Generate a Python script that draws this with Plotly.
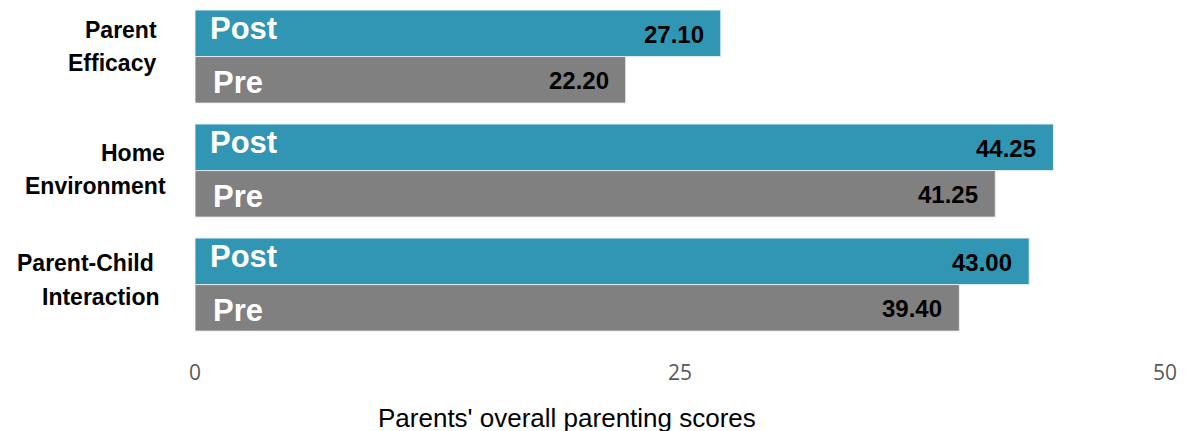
import plotly.graph_objects as go

categories = ["Parent<br>Efficacy", "Home<br>Environment", "Parent-Child<br>Interaction"]
series_names = ["Post", "Pre"]
post_values = [27.10, 44.25, 43.00]
pre_values = [22.20, 41.25, 39.40]
x_ticks = [0, 25, 50]

colors = {"Post": "#3196B4", "Pre": "#808080"}
bargap = 0.184

fig = go.Figure()
ypos = list(range(len(categories)))
for name, vals in zip(series_names, [post_values, pre_values]):
    fig.add_trace(go.Bar(
        y=ypos, x=vals, name=name, orientation="h",
        marker=dict(color=colors[name], line=dict(color="rgba(230,240,245,0.9)", width=1)),
        hoverinfo="skip",
    ))

annotations = []
half = (1 - bargap) / 4
label_font = dict(family="Liberation Sans, Arial, sans-serif", size=31, color="white")
val_font = dict(family="Liberation Sans, Arial, sans-serif", size=24, color="black")
for i in range(len(categories)):
    for name, vals, off, ysh, xsh in [("Post", post_values, -half, 5, 13), ("Pre", pre_values, half, -3, 16)]:
        annotations.append(dict(x=0, y=i + off, xref="x", yref="y", text="<b>%s</b>" % name,
                                showarrow=False, xanchor="left", yanchor="middle",
                                xshift=xsh, yshift=ysh, font=label_font))
        annotations.append(dict(x=vals[i], y=i + off, xref="x", yref="y", text="<b>%.2f</b>" % vals[i],
                                showarrow=False, xanchor="right", yanchor="middle",
                                xshift=-15, yshift=-1, font=val_font))

cat_font = dict(family="Liberation Sans, Arial, sans-serif", size=23, color="black")
# per-line (xshift, yshift) offsets relative to group centre
cat_shift = [[(-36, 27), (-37, -6)], [(-28, 18), (-27, -15)], [(-39, 22), (-33, -12)]]
for i, c in enumerate(categories):
    for j, line in enumerate(c.split("<br>")):
        xs, ys = cat_shift[i][j]
        annotations.append(dict(x=0, y=i, xref="x", yref="y", text="<b>%s</b>" % line, showarrow=False,
                                xanchor="right", yanchor="middle", align="right",
                                xshift=xs, yshift=ys, font=cat_font))

annotations.append(dict(x=0.3835, y=0, xref="paper", yref="paper", yshift=-60,
                        text="Parents' overall parenting scores", showarrow=False,
                        xanchor="center", yanchor="middle",
                        font=dict(family="Liberation Sans, Arial, sans-serif", size=26, color="black")))

fig.update_layout(
    width=1179, height=423,
    margin=dict(l=187, r=22, t=0, b=73),
    barmode="group", bargap=bargap, bargroupgap=0,
    plot_bgcolor="white", paper_bgcolor="white",
    showlegend=False,
    annotations=annotations,
    xaxis=dict(range=[0, 50], tickvals=x_ticks, showgrid=False, zeroline=False, showline=False,
               tickfont=dict(family="Open Sans, sans-serif", size=21, color="#595959")),
    yaxis=dict(range=[2.644, -0.426], showticklabels=False, showgrid=False, zeroline=False, showline=False),
)
fig.write_html("out.html")
